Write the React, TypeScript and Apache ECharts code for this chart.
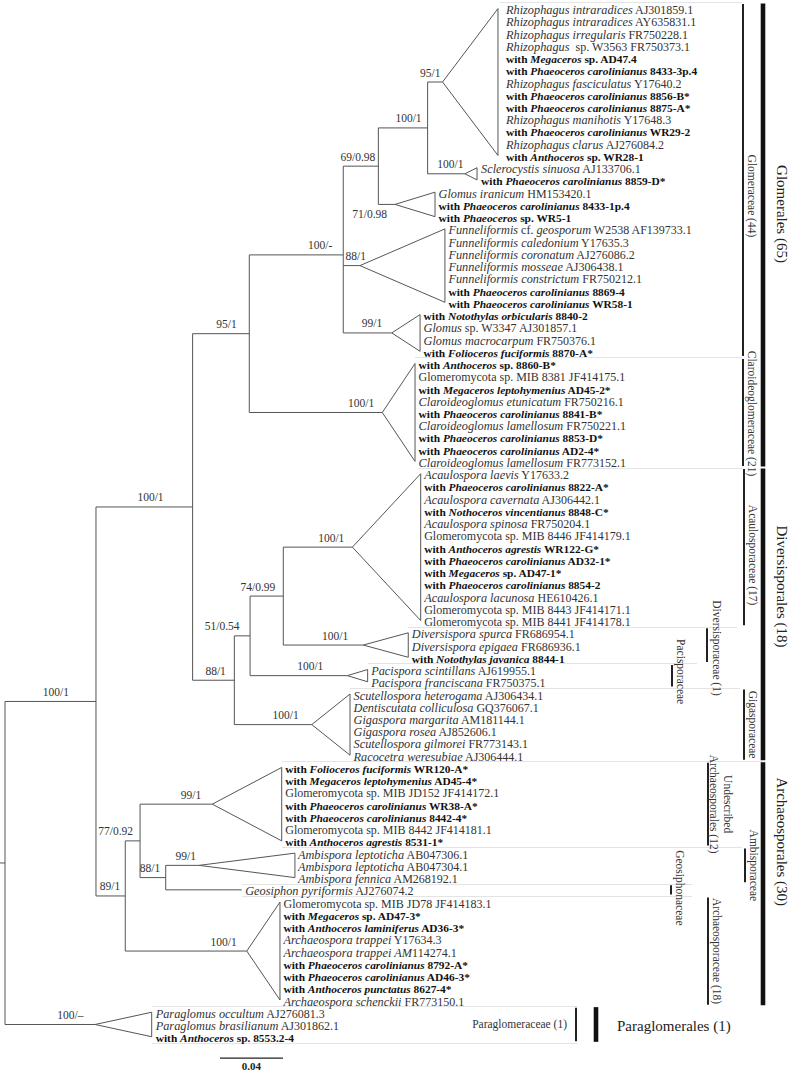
import React, { useEffect, useRef } from "react";
import * as echarts from "echarts";

// ================= DATA =================
// Tip labels, top to bottom. _..._ marks italic; lines starting with "with " are bold.
const leafLabels: string[] = [
  "_Rhizophagus intraradices_ AJ301859.1",
  "_Rhizophagus intraradices_ AY635831.1",
  "_Rhizophagus irregularis_ FR750228.1",
  "_Rhizophagus_  sp. W3563 FR750373.1",
  "with _Megaceros_ sp. AD47.4",
  "with _Phaeoceros carolinianus_ 8433-3p.4",
  "_Rhizophagus fasciculatus_ Y17640.2",
  "with _Phaeoceros carolinianus_ 8856-B*",
  "with _Phaeoceros carolinianus_ 8875-A*",
  "_Rhizophagus manihotis_ Y17648.3",
  "with _Phaeoceros carolinianus_ WR29-2",
  "_Rhizophagus clarus_ AJ276084.2",
  "with _Anthoceros_ sp. WR28-1",
  "_Sclerocystis sinuosa_ AJ133706.1",
  "with _Phaeoceros carolinianus_ 8859-D*",
  "_Glomus iranicum_ HM153420.1",
  "with _Phaeoceros carolinianus_ 8433-1p.4",
  "with _Phaeoceros_ sp. WR5-1",
  "_Funneliformis_ cf. _geosporum_ W2538 AF139733.1",
  "_Funneliformis caledonium_ Y17635.3",
  "_Funneliformis coronatum_ AJ276086.2",
  "_Funneliformis mosseae_ AJ306438.1",
  "_Funneliformis constrictum_ FR750212.1",
  "with _Phaeoceros carolinianus_ 8869-4",
  "with _Phaeoceros carolinianus_ WR58-1",
  "with _Notothylas orbicularis_ 8840-2",
  "_Glomus_ sp. W3347 AJ301857.1",
  "_Glomus macrocarpum_ FR750376.1",
  "with _Folioceros fuciformis_ 8870-A*",
  "with _Anthoceros_ sp. 8860-B*",
  "Glomeromycota sp. MIB 8381 JF414175.1",
  "with _Megaceros leptohymenius_ AD45-2*",
  "_Claroideoglomus etunicatum_ FR750216.1",
  "with _Phaeoceros carolinianus_ 8841-B*",
  "_Claroideoglomus lamellosum_ FR750221.1",
  "with _Phaeoceros carolinianus_ 8853-D*",
  "with _Phaeoceros carolinianus_ AD2-4*",
  "_Claroideoglomus lamellosum_ FR773152.1",
  "_Acaulospora laevis_ Y17633.2",
  "with _Phaeoceros carolinianus_ 8822-A*",
  "_Acaulospora cavernata_ AJ306442.1",
  "with _Nothoceros vincentianus_ 8848-C*",
  "_Acaulospora spinosa_ FR750204.1",
  "Glomeromycota sp. MIB 8446 JF414179.1",
  "with _Anthoceros agrestis_ WR122-G*",
  "with _Phaeoceros carolinianus_ AD32-1*",
  "with _Megaceros_ sp. AD47-1*",
  "with _Phaeoceros carolinianus_ 8854-2",
  "_Acaulospora lacunosa_ HE610426.1",
  "Glomeromycota sp. MIB 8443 JF414171.1",
  "Glomeromycota sp. MIB 8441 JF414178.1",
  "_Diversispora spurca_ FR686954.1",
  "_Diversispora epigaea_ FR686936.1",
  "with _Notothylas javanica_ 8844-1",
  "_Pacispora scintillans_ AJ619955.1",
  "_Pacispora franciscana_ FR750375.1",
  "_Scutellospora heterogama_ AJ306434.1",
  "_Dentiscutata colliculosa_ GQ376067.1",
  "_Gigaspora margarita_ AM181144.1",
  "_Gigaspora rosea_ AJ852606.1",
  "_Scutellospora gilmorei_ FR773143.1",
  "_Racocetra weresubiae_ AJ306444.1",
  "with _Folioceros fuciformis_ WR120-A*",
  "with _Megaceros leptohymenius_ AD45-4*",
  "Glomeromycota sp. MIB JD152 JF414172.1",
  "with _Phaeoceros carolinianus_ WR38-A*",
  "with _Phaeoceros carolinianus_ 8442-4*",
  "Glomeromycota sp. MIB 8442 JF414181.1",
  "with _Anthoceros agrestis_ 8531-1*",
  "_Ambispora leptoticha_ AB047306.1",
  "_Ambispora leptoticha_ AB047304.1",
  "_Ambispora fennica_ AM268192.1",
  "_Geosiphon pyriformis_ AJ276074.2",
  "Glomeromycota sp. MIB JD78 JF414183.1",
  "with _Megaceros_ sp. AD47-3*",
  "with _Anthoceros laminiferus_ AD36-3*",
  "_Archaeospora trappei_ Y17634.3",
  "_Archaeospora trappei AM_114274.1",
  "with _Phaeoceros carolinianus_ 8792-A*",
  "with _Phaeoceros carolinianus_ AD46-3*",
  "with _Anthoceros punctatus_ 8627-4*",
  "_Archaeospora schenckii_ FR773150.1",
  "_Paraglomus occultum_ AJ276081.3",
  "_Paraglomus brasilianum_ AJ301862.1",
  "with _Anthoceros_ sp. 8553.2-4",
];

// Internal nodes: parent index and depth from root (substitutions/site)
const nodeNames = ["root", "A", "B", "C", "D", "E", "F", "G", "H", "I", "J", "K", "L"];
const nodeParent = [-1, 0, 1, 1, 2, 2, 4, 6, 7, 5, 9, 3, 11];
const nodeDepth = [0, 0.0578, 0.1192, 0.0764, 0.1552, 0.1457, 0.2149, 0.2372, 0.2685, 0.1557, 0.1768, 0.0858, 0.1021];
const nodeSupport = ["", "100/1", "100/1", "89/1", "95/1", "88/1", "100/-", "69/0.98", "100/1", "51/0.54", "74/0.99", "77/0.92", "88/1"];

// Collapsed clades (triangles): parent node, first/last tip row, apex depth, tip depth
const cladeNames = ["Rhizophagus", "Sclerocystis", "Glomus iranicum", "Funneliformis", "Glomus", "Claroideoglomus",
  "Acaulospora", "Diversispora", "Pacispora", "Gigasporaceae", "Undescribed", "Ambispora", "Geosiphon",
  "Archaeospora", "Paraglomus"];
const cladeParent = [8, 8, 7, 6, 6, 4, 10, 10, 9, 5, 11, 12, 12, 3, 0];
const cladeFirst = [0, 13, 15, 18, 25, 29, 38, 51, 54, 56, 62, 69, 72, 73, 82];
const cladeLast = [12, 14, 17, 24, 28, 37, 50, 53, 55, 61, 68, 71, 72, 81, 84];
const cladeApex = [0.2780, 0.2922, 0.2478, 0.2255, 0.2457, 0.2397, 0.2207, 0.2276, 0.2175, 0.1949, 0.1317, 0.1233, 0.1504, 0.1536, 0.0572];
const cladeTip = [0.3132, 0.2999, 0.2732, 0.2795, 0.2637, 0.2605, 0.2641, 0.2562, 0.2304, 0.2192, 0.1758, 0.1842, 0.1504, 0.1747, 0.0932];
const cladeSupport = ["95/1", "100/1", "71/0.98", "88/1", "99/1", "100/1", "100/1", "100/1", "100/1", "100/1", "99/1", "99/1", "", "100/1", "100/\u2013"];

// Families and orders (tip row ranges)
const familyNames = ["Glomeraceae (44)", "Claroideoglomeraceae (21)", "Acaulosporaceae (17)", "Diversisporaceae (1)",
  "Pacisporaceae", "Gigasporaceae", "Undescribed\nArchaeosporales (12)", "Ambisporaceae", "Geosiphonaceae",
  "Archaeosporaceae (18)", "Paraglomeraceae (1)"];
const familyFirst = [0, 29, 38, 51, 54, 56, 62, 69, 72, 73, 82];
const familyLast = [28, 37, 50, 53, 55, 61, 68, 71, 72, 81, 84];
const orderNames = ["Glomerales (65)", "Diversisporales (18)", "Archaeosporales (30)", "Paraglomerales (1)"];
const orderFirst = [0, 38, 62, 82];
const orderLast = [37, 61, 81, 84];

const scaleBarValue = 0.04;
const scaleBarLabel = "0.04";

// ================= LAYOUT (px / styles) =================
const W = 792, H = 1071;
const SERIF = '"Liberation Serif", "Times New Roman", Times, serif';
const X_MAX = 0.5, GRID_LEFT = 5, GRID_W = 787;
const ROW = 12.24, Y_MIN = -0.7, Y_MAX = Y_MIN + H / ROW;
const ROOT_STUB = 0.0032;
const LINE = "#555";
const cladeLabelGap = [8, 4, 3.5, 3.5, 3.5, 3.5, 3.5, 3.5, 3.5, 3.5, 3.5, 3, 3.5, 3.5, 4];
const nodeSupportDx = [0, 27, 29, 5, 12.5, 8.5, 11, 3, 6, 10.5, 8, 7, 5.5];
const cladeSupportDx = [2, 1.5, 8, -6, 9.5, 8, 8, 15, 24, 13, 11, 3, 0, 10, 11.5];
const cladeSupportBelow = [false, false, true, false, false, false, false, false, false, false, false, false, false, false, false];
const familyBarX = [743, 743, 744, 707, 672, 744, 708, 745, 671, 708, 576];
const familyLabelDx = [8.5, 8.5, 8.5, 9.5, 8.5, 8.5, 13, 8.5, 9, 8.5, -9];
const familyLabelDy = [16, 1, 8, 3, -4, 0, 0, 0, -2, 0, 0];
const orderBarX = [763, 763, 763, 596];
const orderLabelDy = [-21, -28, -42, 0];
const sepRows = [-0.5, 28.5, 37.5, 50.5, 53.5, 55.5, 61.5, 68.5, 71.5, 72.5, 81.5, 84.5];
const sepX1 = [500, 415, 418, 408, 368, 350, 282, 282, 242, 242, 152, 152];
const sepX2 = [742, 742, 742, 737, 697, 740, 763, 742, 692, 692, 577, 577];
const scaleBarX0 = 0.1366, scaleBarRow = 85.74;

const RICH = {
  n: { fontFamily: SERIF, fontSize: 12, fill: "#333" },
  i: { fontFamily: SERIF, fontSize: 12.3, fontStyle: "italic", fill: "#333" },
  b: { fontFamily: SERIF, fontSize: 11.4, fontWeight: "bold", fill: "#111" },
  bi: { fontFamily: SERIF, fontSize: 11.4, fontWeight: "bold", fontStyle: "italic", fill: "#111" },
};

function toRich(s: string): string {
  const bold = s.startsWith("with ");
  return s
    .split("_")
    .map((p, k) => (p ? `{${bold ? (k % 2 ? "bi" : "b") : k % 2 ? "i" : "n"}|${p}}` : ""))
    .join("");
}

function buildOption() {
  const nN = nodeNames.length;
  const kidsNodes = nodeNames.map((_, n) => nodeParent.map((p, i) => (p === n ? i : -1)).filter((i) => i >= 0));
  const kidsClades = nodeNames.map((_, n) => cladeParent.map((p, i) => (p === n ? i : -1)).filter((i) => i >= 0));
  const cladeY = cladeFirst.map((f, i) => (f + cladeLast[i]) / 2);
  const nodeY = new Array(nN).fill(0);
  const calc = (n: number): number => {
    const ys = [...kidsNodes[n].map(calc), ...kidsClades[n].map((c) => cladeY[c])];
    nodeY[n] = ys.reduce((a, b) => a + b, 0) / ys.length;
    return nodeY[n];
  };
  calc(0);

  // branch segments [x1, y1, x2, y2]
  const segs: number[][] = [];
  for (let n = 0; n < nN; n++) {
    const ys = [...kidsNodes[n].map((k) => nodeY[k]), ...kidsClades[n].map((c) => cladeY[c])];
    segs.push([nodeDepth[n], Math.min(...ys), nodeDepth[n], Math.max(...ys)]);
    if (nodeParent[n] >= 0) segs.push([nodeDepth[nodeParent[n]], nodeY[n], nodeDepth[n], nodeY[n]]);
  }
  cladeParent.forEach((p, c) => segs.push([nodeDepth[p], cladeY[c], cladeApex[c], cladeY[c]]));
  segs.push([-ROOT_STUB, nodeY[0], 0, nodeY[0]]);

  const tris = cladeParent
    .map((_, c) => c)
    .filter((c) => cladeFirst[c] < cladeLast[c])
    .map((c) => [cladeApex[c], cladeY[c], cladeTip[c], cladeFirst[c], cladeTip[c], cladeLast[c]]);

  // tip labels: [tip depth, row, label index, clade index]
  const leaves: number[][] = [];
  cladeFirst.forEach((f, c) => {
    for (let r = f; r <= cladeLast[c]; r++) leaves.push([cladeTip[c], r, r, c]);
  });

  const supports: { v: number[]; text: string; dx: number; below: boolean }[] = [];
  for (let n = 1; n < nN; n++) {
    if (nodeSupport[n]) supports.push({ v: [nodeDepth[n], nodeY[n]], text: nodeSupport[n], dx: nodeSupportDx[n], below: false });
  }
  cladeSupport.forEach((s, c) => {
    if (s) supports.push({ v: [cladeApex[c], cladeY[c]], text: s, dx: cladeSupportDx[c], below: cladeSupportBelow[c] });
  });

  const lineStyle = { stroke: LINE, lineWidth: 1, fill: "none" };
  const base = { type: "custom", coordinateSystem: "cartesian2d", silent: true, clip: false };

  return {
    animation: false,
    backgroundColor: "#fff",
    grid: { left: GRID_LEFT, top: 0, width: GRID_W, height: H, show: false },
    xAxis: { type: "value", min: 0, max: X_MAX, show: false },
    yAxis: { type: "value", min: Y_MIN, max: Y_MAX, inverse: true, show: false },
    series: [
      // faint separators
      {
        ...base,
        data: sepRows.map((r, i) => [0, r, i]),
        renderItem: (params: any, api: any) => {
          const i = params.dataIndex;
          const y = Math.round(api.coord([0, sepRows[i]])[1]) + 0.5;
          return { type: "line", shape: { x1: sepX1[i], y1: y, x2: sepX2[i], y2: y }, style: { stroke: "#e4e4e4", lineWidth: 1 } };
        },
      },
      // branches
      {
        ...base,
        data: segs,
        renderItem: (params: any, api: any) => {
          const p1 = api.coord([api.value(0), api.value(1)]);
          const p2 = api.coord([api.value(2), api.value(3)]);
          return { type: "line", shape: { x1: p1[0], y1: p1[1], x2: p2[0], y2: p2[1] }, style: { stroke: LINE, lineWidth: 1 } };
        },
      },
      // collapsed clades
      {
        ...base,
        data: tris,
        renderItem: (params: any, api: any) => {
          const a = api.coord([api.value(0), api.value(1)]);
          const b = api.coord([api.value(2), api.value(3)]);
          const c = api.coord([api.value(4), api.value(5)]);
          return { type: "polygon", shape: { points: [a, b, c] }, style: lineStyle };
        },
      },
      // tip labels
      {
        ...base,
        data: leaves,
        renderItem: (params: any, api: any) => {
          const p = api.coord([api.value(0), api.value(1)]);
          const idx = api.value(2);
          const c = api.value(3);
          return {
            type: "text",
            x: p[0] + cladeLabelGap[c],
            y: p[1] + 1.5,
            style: {
              text: toRich(leafLabels[idx]),
              rich: RICH,
              fontFamily: SERIF,
              fontSize: 12,
              fill: "#333",
              align: "left",
              verticalAlign: "middle",
            },
          };
        },
      },
      // support values
      {
        ...base,
        data: supports.map((s) => s.v),
        renderItem: (params: any, api: any) => {
          const s = supports[params.dataIndex];
          const p = api.coord([api.value(0), api.value(1)]);
          return {
            type: "text",
            x: p[0] - s.dx,
            y: p[1] + (s.below ? 9.5 : -9.5),
            style: { text: s.text, fontFamily: SERIF, fontSize: 11.5, fill: "#333", align: "right", verticalAlign: "middle" },
          };
        },
      },
      // family bars + labels
      {
        ...base,
        data: familyFirst.map((f, i) => [f, familyLast[i], i]),
        renderItem: (params: any, api: any) => {
          const i = params.dataIndex;
          const y1 = api.coord([0, familyFirst[i] - 0.5])[1] + 1.5;
          const y2 = api.coord([0, familyLast[i] + 0.5])[1] - 1.5;
          const x = familyBarX[i];
          const horizontal = i === familyNames.length - 1;
          return {
            type: "group",
            children: [
              { type: "rect", shape: { x: x - 1, y: y1, width: 2, height: y2 - y1 }, style: { fill: "#222" } },
              {
                type: "text",
                x: x + familyLabelDx[i],
                y: (y1 + y2) / 2 + familyLabelDy[i],
                rotation: horizontal ? 0 : -Math.PI / 2,
                style: {
                  text: familyNames[i],
                  fontFamily: SERIF,
                  fontSize: 11.5,
                  lineHeight: 13.5,
                  fill: "#333",
                  align: horizontal ? "right" : "center",
                  verticalAlign: "middle",
                },
              },
            ],
          };
        },
      },
      // order bars + labels
      {
        ...base,
        data: orderFirst.map((f, i) => [f, orderLast[i], i]),
        renderItem: (params: any, api: any) => {
          const i = params.dataIndex;
          const y1 = api.coord([0, orderFirst[i] - 0.5])[1] + 1;
          const y2 = api.coord([0, orderLast[i] + 0.5])[1] - 1;
          const x = orderBarX[i];
          const horizontal = i === orderNames.length - 1;
          return {
            type: "group",
            children: [
              { type: "rect", shape: { x: x - 2.3, y: y1, width: 4.6, height: y2 - y1 }, style: { fill: "#111" } },
              {
                type: "text",
                x: horizontal ? x + 21 : x + 19,
                y: (y1 + y2) / 2 + (horizontal ? 2 : orderLabelDy[i]),
                rotation: horizontal ? 0 : -Math.PI / 2,
                style: {
                  text: orderNames[i],
                  fontFamily: SERIF,
                  fontSize: 15,
                  fill: "#222",
                  align: horizontal ? "left" : "center",
                  verticalAlign: "middle",
                },
              },
            ],
          };
        },
      },
      // scale bar
      {
        ...base,
        data: [[scaleBarX0, scaleBarRow, scaleBarX0 + scaleBarValue]],
        renderItem: (params: any, api: any) => {
          const a = api.coord([api.value(0), api.value(1)]);
          const b = api.coord([api.value(2), api.value(1)]);
          return {
            type: "group",
            children: [
              { type: "line", shape: { x1: a[0], y1: a[1], x2: b[0], y2: b[1] }, style: { stroke: "#222", lineWidth: 1.2 } },
              {
                type: "text",
                x: (a[0] + b[0]) / 2,
                y: a[1] + 8,
                style: { text: scaleBarLabel, fontFamily: SERIF, fontSize: 11, fontWeight: "bold", fill: "#222", align: "center", verticalAlign: "middle" },
              },
            ],
          };
        },
      },
    ],
  };
}

export default function App() {
  const ref = useRef<HTMLDivElement>(null);
  useEffect(() => {
    if (!ref.current) return;
    const chart = echarts.init(ref.current, null, { renderer: "svg" });
    chart.setOption(buildOption() as any);
    return () => chart.dispose();
  }, []);
  return (
    <div
      ref={ref}
      style={{ position: "absolute", left: 0, top: 0, width: W, height: H, background: "#fff" }}
    />
  );
}
